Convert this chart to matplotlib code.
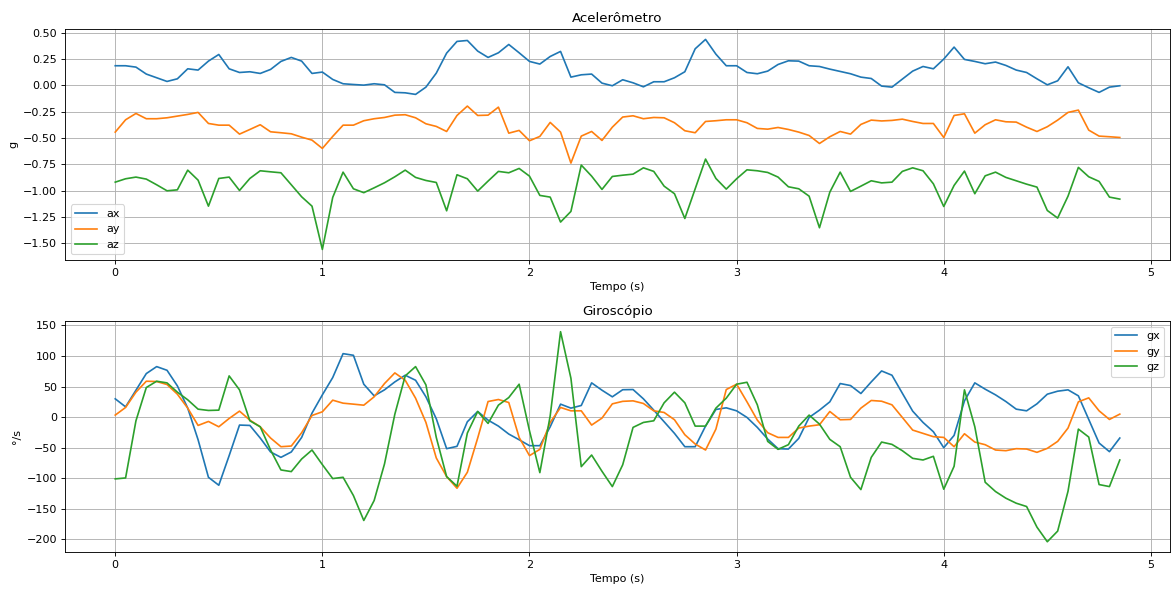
import numpy as np
import matplotlib
matplotlib.use("Agg")
import matplotlib.pyplot as plt

# Leituras a cada 0.05 s
tempo = np.round(np.arange(98) * 0.05, 2)

ax_g = [0.187, 0.187, 0.174, 0.108, 0.073, 0.038, 0.063, 0.158, 0.146, 0.231,
        0.294, 0.158, 0.123, 0.130, 0.114, 0.152, 0.228, 0.266, 0.231, 0.114,
        0.127, 0.057, 0.016, 0.009, 0.003, 0.016, 0.006, -0.066, -0.070, -0.085,
        -0.016, 0.117, 0.307, 0.418, 0.427, 0.326, 0.266, 0.310, 0.389, 0.310,
        0.228, 0.203, 0.275, 0.323, 0.079, 0.101, 0.108, 0.022, -0.003, 0.054,
        0.025, -0.013, 0.035, 0.035, 0.073, 0.130, 0.348, 0.437, 0.297, 0.187,
        0.187, 0.123, 0.111, 0.136, 0.199, 0.234, 0.231, 0.187, 0.180, 0.155,
        0.133, 0.111, 0.079, 0.066, -0.006, -0.016, 0.060, 0.136, 0.180, 0.158,
        0.250, 0.364, 0.247, 0.228, 0.206, 0.222, 0.190, 0.146, 0.123, 0.063,
        0.006, 0.044, 0.177, 0.025, -0.022, -0.066, -0.016, -0.003]
ay_g = [-0.443, -0.326, -0.266, -0.316, -0.316, -0.307, -0.291, -0.275, -0.256, -0.361,
        -0.377, -0.377, -0.462, -0.418, -0.373, -0.440, -0.449, -0.459, -0.491, -0.519,
        -0.598, -0.484, -0.377, -0.377, -0.335, -0.316, -0.304, -0.282, -0.278, -0.307,
        -0.364, -0.389, -0.437, -0.285, -0.196, -0.285, -0.282, -0.206, -0.453, -0.427,
        -0.525, -0.484, -0.351, -0.443, -0.737, -0.481, -0.437, -0.522, -0.396, -0.300,
        -0.288, -0.316, -0.304, -0.307, -0.354, -0.430, -0.449, -0.342, -0.335, -0.326,
        -0.326, -0.354, -0.408, -0.415, -0.399, -0.418, -0.443, -0.475, -0.551, -0.487,
        -0.437, -0.462, -0.370, -0.329, -0.337, -0.332, -0.320, -0.342, -0.361, -0.361,
        -0.494, -0.285, -0.269, -0.453, -0.373, -0.326, -0.345, -0.348, -0.396, -0.437,
        -0.392, -0.329, -0.256, -0.234, -0.424, -0.481, -0.487, -0.494]
az_g = [-0.918, -0.886, -0.870, -0.889, -0.943, -1.000, -0.991, -0.804, -0.899, -1.146,
        -0.883, -0.870, -0.997, -0.883, -0.810, -0.820, -0.829, -0.943, -1.057, -1.146,
        -1.557, -1.063, -0.823, -0.981, -1.018, -0.972, -0.924, -0.867, -0.804, -0.873,
        -0.902, -0.921, -1.190, -0.848, -0.886, -1.003, -0.908, -0.816, -0.829, -0.788,
        -0.861, -1.044, -1.060, -1.297, -1.196, -0.756, -0.861, -0.987, -0.864, -0.852,
        -0.842, -0.782, -0.816, -0.956, -1.028, -1.263, -0.981, -0.699, -0.883, -0.984,
        -0.886, -0.801, -0.810, -0.826, -0.870, -0.962, -0.981, -1.051, -1.351, -1.013,
        -0.823, -1.006, -0.956, -0.905, -0.925, -0.918, -0.816, -0.782, -0.810, -0.934,
        -1.149, -0.949, -0.813, -1.028, -0.858, -0.823, -0.873, -0.905, -0.937, -0.965,
        -1.187, -1.259, -1.051, -0.778, -0.867, -0.911, -1.060, -1.079]

gx = [29.9, 16.8, 44.0, 71.2, 82.6, 76.6, 51.1, 14.7, -37.0, -98.4,
      -111.4, -63.0, -13.0, -13.6, -34.2, -57.0, -65.8, -57.0, -33.2, 6.5,
      36.4, 64.7, 103.8, 101.1, 53.8, 34.8, 44.6, 57.6, 68.5, 60.3,
      33.2, -2.7, -51.6, -47.8, -7.6, 9.2, -4.9, -14.7, -27.7, -37.0,
      -46.7, -46.7, -15.8, 21.2, 14.7, 19.0, 56.0, 44.0, 33.2, 44.8,
      45.1, 29.9, 11.4, -7.6, -26.6, -48.4, -48.4, -14.7, 12.5, 15.2,
      10.3, -0.5, -16.8, -35.9, -51.6, -52.2, -34.8, -0.5, 11.4, 25.0,
      54.9, 51.6, 38.6, 57.6, 75.5, 68.5, 39.1, 9.8, -8.7, -23.9,
      -50.0, -29.9, 26.6, 56.0, 45.7, 36.4, 25.5, 13.0, 10.3, 21.7,
      37.5, 42.4, 44.6, 34.8, -3.8, -42.4, -56.5, -34.2]
gy = [3.3, 15.8, 40.8, 58.7, 58.2, 53.3, 37.5, 14.7, -13.6, -7.1,
      -15.8, -2.2, 9.8, -4.9, -15.8, -34.2, -48.4, -47.3, -25.5, 2.7,
      8.7, 27.7, 22.8, 21.2, 19.5, 33.2, 54.9, 72.3, 60.3, 31.0,
      -8.7, -66.8, -97.3, -116.3, -90.2, -34.2, 25.5, 28.8, 23.9, -33.2,
      -63.0, -52.7, -8.7, 15.8, 10.3, 10.3, -13.0, -1.6, 21.7, 25.8,
      26.6, 22.3, 10.3, 7.6, -4.3, -28.8, -44.0, -53.8, -19.6, 45.1,
      53.8, 25.0, -4.9, -25.5, -33.2, -33.2, -17.9, -14.7, -12.5, 9.2,
      -4.3, -3.8, 14.7, 27.2, 26.0, 20.1, -0.5, -21.2, -26.6, -32.0,
      -33.2, -48.4, -27.2, -40.8, -45.1, -53.8, -54.9, -51.6, -52.2, -57.6,
      -51.1, -39.7, -17.9, 25.0, 31.5, 10.3, -3.8, 4.9]
gz = [-101.0, -99.5, -6.0, 48.4, 58.7, 56.0, 40.8, 28.3, 13.0, 10.9,
      11.4, 67.4, 44.6, -6.0, -15.8, -53.8, -86.4, -89.1, -68.5, -53.8,
      -77.7, -100.5, -98.4, -128.3, -169.0, -136.4, -76.6, 4.9, 67.4, 82.6,
      52.7, -33.2, -97.3, -113.0, -26.1, 9.2, -10.3, 19.6, 32.0, 53.8,
      -22.3, -90.8, 2.2, 139.7, 63.6, -81.0, -62.0, -88.6, -113.6, -78.0,
      -16.8, -8.7, -6.0, 23.4, 40.8, 23.4, -14.7, -14.7, 14.7, 31.0,
      53.8, 57.0, 20.1, -39.7, -52.7, -45.1, -14.7, 3.3, -11.4, -36.4,
      -48.4, -98.4, -118.5, -65.8, -40.8, -44.6, -54.9, -67.4, -70.1, -64.1,
      -117.9, -80.4, 44.6, -15.8, -106.5, -121.7, -132.6, -140.8, -146.2, -179.9,
      -203.8, -186.4, -121.2, -19.6, -32.6, -110.3, -113.6, -70.1]

# figura "grande" salva com dpi menor -> texto no mesmo tamanho relativo do original
fig, (ax1, ax2) = plt.subplots(2, 1, figsize=(14.64, 7.375), dpi=80)

ax1.plot(tempo, ax_g, label='ax')
ax1.plot(tempo, ay_g, label='ay')
ax1.plot(tempo, az_g, label='az')
ax1.set_title('Acelerômetro')
ax1.set_xlabel('Tempo (s)')
ax1.set_ylabel('g')
ax1.set_yticks(np.arange(-1.5, 0.51, 0.25))
ax1.legend(loc='lower left')
ax1.grid(True)

ax2.plot(tempo, gx, label='gx')
ax2.plot(tempo, gy, label='gy')
ax2.plot(tempo, gz, label='gz')
ax2.set_title('Giroscópio')
ax2.set_xlabel('Tempo (s)')
ax2.set_ylabel('°/s')
ax2.set_yticks(np.arange(-200, 151, 50))
ax2.legend(loc='upper right')
ax2.grid(True)

plt.subplots_adjust(left=0.0555, right=0.999, top=0.951, bottom=0.064, hspace=0.265)
plt.savefig('out.png', dpi=80)
